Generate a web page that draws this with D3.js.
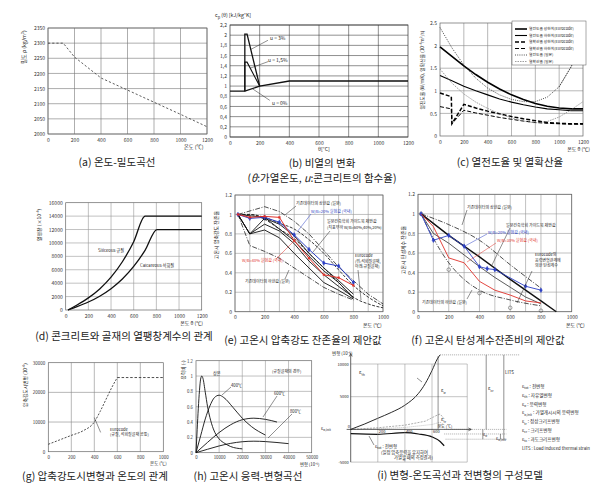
<!DOCTYPE html>
<html><head><meta charset="utf-8">
<script src="https://cdn.jsdelivr.net/npm/d3@7"></script>
<style>body{margin:0;background:#fff}svg{display:block}</style>
</head><body><svg id="c" width="607" height="486"></svg>
<script>
// ================= DATA =================
// (a) density
const aTicksX=[0,200,400,600,800,1000,1200];
const aTicksY=[2000,2050,2100,2150,2200,2250,2300,2350];
const densityCurve=[[0,2300],[115,2300],[200,2254],[400,2185],[600,2145],[800,2105],[1000,2065],[1200,2024]];
// (b) specific heat
const bTicksX=[0,200,400,600,800,1000,1200];
const bTicksY=[0,0.2,0.4,0.6,0.8,1,1.2,1.4,1.6,1.8,2,2.2];
const cpMoist0=[[0,0.9],[100,0.9],[200,1.0],[400,1.1],[1200,1.1]];
const cpMoist15=[[100,0.9],[100,1.47],[115,1.47],[200,1.0]];
const cpMoist3=[[100,0.9],[100,2.02],[115,2.02],[200,1.0]];
// (c) conductivity / diffusivity
const cTicksX=[0,200,400,600,800,1000,1200];
const cTicksY=[0,0.5,1,1.5,2,2.5];
const condUpperEC=[[0,1.97],[100,1.76],[200,1.55],[300,1.36],[400,1.19],[500,1.04],[600,0.91],[700,0.81],[800,0.72],[900,0.66],[1000,0.62],[1100,0.6],[1200,0.6]];
const condLowerEC=[[0,1.34],[100,1.22],[200,1.1],[300,1.0],[400,0.91],[500,0.82],[600,0.75],[700,0.69],[800,0.64],[900,0.6],[1000,0.58],[1100,0.56],[1200,0.56]];
const diffUpperEC=[[0,0.95],[95,0.87],[100,0.27],[200,0.7],[300,0.62],[400,0.55],[500,0.49],[600,0.43],[700,0.38],[800,0.34],[900,0.3],[1000,0.28],[1100,0.27],[1200,0.27]];
const diffLowerEC=[[0,0.65],[95,0.6],[100,0.27],[200,0.57],[300,0.51],[400,0.46],[500,0.41],[600,0.37],[700,0.33],[800,0.3],[900,0.28],[1000,0.27],[1100,0.26],[1200,0.26]];
const condJapan=[[0,2.4],[100,1.95],[200,1.57],[300,1.28],[400,1.06],[500,0.91],[600,0.81],[700,0.76],[800,0.76],[900,0.86],[1000,1.09],[1100,1.53],[1200,2.09]];
const diffJapan=[[0,1.48],[100,1.17],[200,0.93],[300,0.75],[400,0.61],[500,0.49],[600,0.4],[700,0.33],[800,0.29],[900,0.32],[1000,0.42],[1100,0.58],[1200,0.76]];
const cLegendLabels=["열전도율 상한치(Eurocode)","열전도율 하한치(Eurocode)","열확산율 상한치(Eurocode)","열확산율 하한치(Eurocode)","열전도율 (일본)","열확산율 (일본)"];
// (d) thermal expansion
const dTicksX=[0,200,400,600,800,1000,1200];
const dTicksY=[0,2000,4000,6000,8000,10000,12000,14000,16000];
const expSiliceous=[[20,0],[100,743],[200,1804],[300,3141],[400,4892],[500,7195],[600,10188],[700,14000],[1200,14000]];
const expCalcareous=[[20,0],[100,494],[200,1192],[300,2058],[400,3176],[500,4630],[600,6504],[700,8882],[805,12000],[1200,12000]];
// (e) residual compressive strength
const eTicksX=[0,200,400,600,800,1000];
const eTicksY=[0,0.2,0.4,0.6,0.8,1,1.2];
const eGridX=[0,100,200,300,400,500,600,700,800,900,1000];
const eUpper=[[20,1],[200,1.08],[300,1.03],[400,0.93],[500,0.8],[600,0.63],[700,0.46],[800,0.32],[900,0.18],[1000,0.08]];
const eLower=[[20,1],[100,0.68],[200,0.62],[300,0.55],[400,0.45],[500,0.35],[600,0.25],[700,0.18],[800,0.12]];
const eEuroCalc=[[20,1],[100,1],[200,0.97],[300,0.91],[400,0.85],[500,0.74],[600,0.6],[700,0.43],[800,0.27],[900,0.15],[1000,0.06]];
const eEuroSil=[[20,1],[100,1],[200,0.95],[300,0.85],[400,0.75],[500,0.6],[600,0.45],[700,0.3],[800,0.15],[900,0.08],[1000,0.04]];
const eAIJ80=[[20,1],[100,0.8],[200,0.96],[300,0.9],[400,0.78],[500,0.6],[600,0.45],[700,0.32],[800,0.18]];
const eAIJ40=[[20,1],[100,0.8],[200,0.9],[300,0.83],[400,0.7],[500,0.52],[600,0.38],[700,0.26],[800,0.15]];
const eAIJ20=[[20,1],[100,0.8],[200,0.84],[300,0.76],[400,0.6],[500,0.45],[600,0.3],[700,0.22],[800,0.13]];
const eAIJbase=[[20,1],[200,0.97],[400,0.73],[500,0.57],[600,0.42],[700,0.3],[800,0.14]];
const eBlue=[[20,1],[100,0.96],[200,0.97],[300,0.92],[400,0.79],[500,0.64],[600,0.5],[700,0.47],[800,0.3]];
const eRed=[[20,1],[100,0.97],[200,0.98],[300,0.97],[400,0.73],[500,0.55],[600,0.38],[700,0.35],[800,0.27]];
// (f) residual elastic modulus
const fUpper=[[20,1],[200,0.89],[400,0.73],[600,0.48],[800,0.24]];
const fLower=[[20,1],[100,0.75],[200,0.5],[300,0.33],[400,0.22],[600,0.12],[800,0.06]];
const fLowerPts=[[20,1],[200,0.43],[400,0.19],[600,0.04],[800,0.01]];
const fAIJ=[[20,1],[200,0.78],[400,0.56],[600,0.33],[800,0.11],[900,0]];
const fEuro=[[20,1],[100,0.8],[200,0.7],[300,0.58],[400,0.46],[500,0.35],[600,0.25],[700,0.15],[800,0.08]];
const fBlue=[[20,1],[100,0.73],[200,0.78],[300,0.67],[400,0.46],[450,0.44],[500,0.43],[700,0.26],[800,0.22]];
const fRed=[[20,1],[100,0.87],[200,0.55],[300,0.5],[400,0.31],[500,0.22],[600,0.17],[700,0.11],[800,0.09]];
// (g) strain at peak stress
const gTicksX=[0,200,400,600,800,1000];
const gTicksY=[0,10000,20000,30000];
const gPeakStrain=[[0,2500],[100,4000],[200,5500],[300,7000],[400,10000],[450,13500],[500,17500],[550,21500],[600,25000]];
const gPeakFlat=[[600,25000],[1000,25000]];
// (h) stress-strain at high temperature
const hTicksX=[0,10000,20000,30000,40000,50000];
const hTicksY=[0,0.2,0.4,0.6,0.8,1,1.2];
const ss20=[[0,0],[500,0.3],[1000,0.58],[1500,0.81],[2000,0.96],[2500,1],[3000,0.97],[4000,0.79],[5000,0.6],[6000,0.46],[7500,0.31],[10000,0.18],[12500,0.12],[15000,0.08],[20000,0.05]];
const ss400=[[0,0],[2000,0.22],[4000,0.44],[6000,0.61],[8000,0.72],[10000,0.75],[12000,0.72],[16000,0.59],[20000,0.45],[24000,0.34],[30000,0.23]];
const ss600=[[0,0],[5000,0.135],[10000,0.263],[15000,0.365],[20000,0.43],[25000,0.45],[30000,0.435],[35000,0.4]];
const ss800=[[0,0],[5000,0.045],[10000,0.088],[15000,0.122],[20000,0.143],[25000,0.15],[30000,0.145],[35000,0.133],[40000,0.118]];
// (i) strain components (schematic)
const iTicksX=[200,400,600];
const iTicksY=[10000,5000,-5000];
const iThermal=[[0,0],[100,800],[200,1700],[300,2600],[400,3700],[500,5500],[550,7000],[600,9000],[640,10800],[660,11400]];
const iTotal=[[0,-650],[200,-750],[400,-500],[500,-700],[600,-1150],[660,-1850],[690,-2500]];
const iDash1=[[0,0],[200,250],[400,650],[550,1250],[630,2100],[660,2350],[690,1600]];
const iDash2=[[0,0],[200,100],[400,300],[600,750],[660,1100],[690,700]];
const iLegend=[["tot","전변형"],["th","자유열변형"],["σ","응력변형"],["σ,init","가열개시시의 응력변형"],["tr","정상크리프변형"],["cr","크리프변형"],["tc","과도크리프변형"]];

// ================= DRAWING =================
const svg=d3.select('#c');
const FONT='"Noto Sans CJK KR","Noto Sans",sans-serif';
function txt(x,y,s,o={}){
  const t=svg.append('text').attr('x',x).attr('y',y).text(s)
    .attr('font-size',o.fs||5).attr('font-family',FONT).attr('fill',o.c||'#222')
    .attr('text-anchor',o.a||'start');
  if(o.rot) t.attr('transform',`rotate(${o.rot},${x},${y})`);
  if(o.fw) t.attr('font-weight',o.fw);
  return t;
}
function eps(x,y,sub,rest,fs,o={}){
  const t=svg.append('text').attr('x',x).attr('y',y).attr('font-size',fs).attr('font-family',FONT).attr('fill','#222');
  t.append('tspan').text(o.base||'ε');
  t.append('tspan').attr('font-size',fs*0.7).attr('dy',fs*0.3).text(sub);
  if(rest) t.append('tspan').attr('dy',-fs*0.3).text(rest);
  return t;
}
function seg(x1,y1,x2,y2,o={}){
  return svg.append('line').attr('x1',x1).attr('y1',y1).attr('x2',x2).attr('y2',y2)
    .attr('stroke',o.c||'#222').attr('stroke-width',o.w||0.5).attr('stroke-dasharray',o.d||null);
}
function panel(o){
  const g=svg.append('g');
  const x=d3.scaleLinear().domain(o.xd).range([o.x0,o.x1]);
  const y=d3.scaleLinear().domain(o.yd).range([o.y1,o.y0]);
  const gc=o.gc||'#8a8a8a', gw=o.gw||0.6;
  g.selectAll(null).data(o.gx).join('line').attr('x1',d=>x(d)).attr('x2',d=>x(d)).attr('y1',o.y0).attr('y2',o.y1).attr('stroke',gc).attr('stroke-width',gw);
  g.selectAll(null).data(o.gy).join('line').attr('y1',d=>y(d)).attr('y2',d=>y(d)).attr('x1',o.x0).attr('x2',o.x1).attr('stroke',gc).attr('stroke-width',gw);
  g.append('rect').attr('x',o.x0).attr('y',o.y0).attr('width',o.x1-o.x0).attr('height',o.y1-o.y0)
    .attr('fill','none').attr('stroke',o.bc||'#666').attr('stroke-width',o.bw||0.7);
  const ax=g.append('g').attr('transform',`translate(0,${o.y1})`)
    .call(d3.axisBottom(x).tickValues(o.xt).tickSize(0).tickPadding(o.xpad||4).tickFormat(o.xf||d3.format('~g')));
  const ay=g.append('g').attr('transform',`translate(${o.x0},0)`)
    .call(d3.axisLeft(y).tickValues(o.yt).tickSize(0).tickPadding(o.ypad||3).tickFormat(o.yf||d3.format('~g')));
  [ax,ay].forEach(a=>{a.select('.domain').remove();
    a.selectAll('text').attr('font-size',o.fs||5).attr('font-family',FONT).attr('fill','#333');});
  return {g,x,y};
}
function line(P,data,o={}){
  const p=P.g.append('path').datum(data)
    .attr('d',d3.line().curve(o.curve||d3.curveLinear).x(d=>P.x(d[0])).y(d=>P.y(d[1])))
    .attr('fill','none').attr('stroke',o.c||'#111').attr('stroke-width',o.w||0.9);
  if(o.d) p.attr('stroke-dasharray',o.d);
  return p;
}
function markers(P,data,o={}){
  P.g.selectAll(null).data(data).join('path')
    .attr('transform',d=>`translate(${P.x(d[0])},${P.y(d[1])})`)
    .attr('d',d3.symbol().type(o.type||d3.symbolDiamond).size(o.size||7))
    .attr('fill',o.fill||o.c||'#111').attr('stroke',o.c||'#111').attr('stroke-width',0.5);
}
function caption(cx,y,s){ txt(cx,y,s,{fs:10.5,a:'middle',c:'#222'}); }

// ---------- (a) ----------
const A=panel({x0:48,x1:207,y0:28,y1:134,xd:[0,1200],yd:[2000,2350],xt:aTicksX,yt:aTicksY,gx:aTicksX,gy:aTicksY,gc:'#777'});
line(A,densityCurve,{d:'2.2,2',w:0.8,c:'#333'});
txt(26,47,'밀도 ρ (kg/m³)',{fs:5.2,a:'middle',rot:-90});
txt(184,149,'온도 (℃)',{fs:5.2});
caption(117,166,'(a) 온도-밀도곡선');

// ---------- (b) ----------
const B=panel({x0:230,x1:408,y0:25,y1:137,xd:[0,1200],yd:[0,2.2],xt:bTicksX,yt:bTicksY,gx:[200,400,600,800,1000],gy:bTicksY,gc:'#333',gw:0.55,bc:'#333',
  yf:d=>Math.abs(d-Math.round(d))<1e-9?String(Math.round(d)):d.toFixed(1).replace('.',',')});
line(B,cpMoist0,{w:1.3});
line(B,cpMoist15,{w:1.1});
line(B,cpMoist3,{w:1.3});
txt(270,40,'u = 3%',{fs:5});
seg(B.x(256),B.y(1.9),B.x(140),B.y(1.72));
txt(268,62,'u = 1,5%',{fs:5});
seg(B.x(256),B.y(1.48),B.x(135),B.y(1.35));
txt(272,105,'u = 0%',{fs:5});
seg(B.x(268),B.y(0.72),B.x(150),B.y(0.95));
(function(){const t=svg.append('text').attr('x',215).attr('y',17).attr('font-size',5.2).attr('font-family',FONT).attr('fill','#222');
  t.append('tspan').text('c');t.append('tspan').attr('font-size',3.8).attr('dy',1.5).text('p');
  t.append('tspan').attr('dy',-1.5).text(' (θ) [kJ/kg°K]');})();
txt(318,151,'θ[°C]',{fs:5.2});
caption(322,167,'(b) 비열의 변화');
(function(){const t=svg.append('text').attr('x',322).attr('y',182).attr('font-size',10.5).attr('font-family',FONT).attr('fill','#222').attr('text-anchor','middle');
  t.append('tspan').text('(');t.append('tspan').attr('font-style','italic').text('θ');
  t.append('tspan').text(':가열온도, ');t.append('tspan').attr('font-style','italic').text('u');
  t.append('tspan').text(':콘크리트의 함수율)');})();

// ---------- (c) ----------
const C=panel({x0:440,x1:583,y0:23,y1:136,xd:[0,1200],yd:[0,2.5],xt:cTicksX,yt:cTicksY,gx:[200,400,600,800,1000],gy:[0.5,1,1.5,2],gc:'#888'});
const cStyles=[{w:1.6,c:'#000'},{w:1.1,c:'#000'},{w:1.5,c:'#000',d:'4,2'},{w:1,c:'#000',d:'4,2'},{w:0.8,c:'#222',d:'1,1.2'},{w:0.7,c:'#777',d:'1.5,1'}];
[condUpperEC,condLowerEC,diffUpperEC,diffLowerEC,condJapan,diffJapan].forEach((s,i)=>line(C,s,cStyles[i]));
svg.append('rect').attr('x',512).attr('y',21).attr('width',74).attr('height',44).attr('fill','#fff').attr('stroke','#555').attr('stroke-width',0.5);
cLegendLabels.forEach((l,i)=>{const yy=29+i*6.5;
  seg(515,yy,527,yy,{w:cStyles[i].w,c:cStyles[i].c,d:cStyles[i].d});
  txt(529,yy+1.4,l,{fs:3.8});});
line(C,condJapan.slice(10),cStyles[4]);
txt(424,70,'열전도율 (W/mK), 열확산율 (10⁻⁶m²/s)',{fs:4.8,a:'middle',rot:-90});
txt(590,151,'온도 θ (℃)',{fs:5,a:'end'});
caption(510,166,'(c) 열전도율 및 열확산율');

// ---------- (d) ----------
const D=panel({x0:65.7,x1:201.7,y0:202.7,y1:310,xd:[0,1200],yd:[0,16000],xt:dTicksX,yt:dTicksY,gx:[200,400,600,800,1000],gy:[2000,4000,6000,8000,10000,12000,14000],gc:'#999'});
line(D,expSiliceous,{w:1.3,curve:d3.curveMonotoneX});
line(D,expCalcareous,{w:1.3,curve:d3.curveMonotoneX});
txt(98,252,'Siliceous 규질',{fs:4.2});
txt(140,267,'Calcareous 석회질',{fs:4.2});
txt(41,225,'열팽창 (×10⁻⁶)',{fs:5,a:'middle',rot:-90});
txt(203,325,'온도 θ (℃)',{fs:5,a:'end'});
caption(124,340,'(d) 콘크리트와 골재의 열팽창계수의 관계');

// ---------- (e) ----------
const E=panel({x0:235,x1:383,y0:195,y1:311.7,xd:[0,1000],yd:[0,1.2],xt:eTicksX,yt:eTicksY,gx:eGridX,gy:eTicksY,gc:'#999'});
line(E,eUpper,{w:0.8,d:'5,1.5,1,1.5',c:'#222'});
line(E,eLower,{w:0.8,d:'5,1.5,1,1.5',c:'#222'});
line(E,eEuroCalc,{w:0.9,d:'3,1.5',c:'#222',curve:d3.curveMonotoneX});
line(E,eEuroSil,{w:0.9,d:'3,1.5',c:'#222',curve:d3.curveMonotoneX});
[eAIJ80,eAIJ40,eAIJ20,eAIJbase].forEach(s=>line(E,s,{w:0.9,c:'#111'}));
markers(E,[[200,0.96]],{type:d3.symbolCircle,size:8});
line(E,eBlue,{w:1,c:'#2b3fc4'});
markers(E,eBlue,{c:'#2b3fc4',size:6});
line(E,eRed,{w:1,c:'#e0322b'});
markers(E,eRed,{c:'#e0322b',type:d3.symbolSquare,size:3});
txt(296,205,'기존데이터의 상한값 (일본)',{fs:4});
seg(296,206,285,215);
txt(311,213,'W/B=20% 실험값 (국내)',{fs:4,c:'#2b3fc4'});
seg(311,214,297,232,{c:'#2b3fc4'});
txt(327,223,'일본건축학회 가이드북 제안값',{fs:4});
txt(327,229,'(지표부하 W/B=60%,40%,20%)',{fs:4});
seg(330,231,313,252);
txt(242,262,'W/B=40% 실험값 (국내)',{fs:4,c:'#e0322b'});
seg(276,259,297,238,{c:'#e0322b'});
txt(355,257,'Eurocode',{fs:4});
txt(355,262.5,'(위:석회질골재,',{fs:4});
txt(355,268,'아래:규질골재)',{fs:4});
seg(358,270,361,300);
txt(245,283,'기존데이터의 하한값 (일본)',{fs:4});
seg(285,279,289,270);
txt(218,235,'고온시 압축강도 잔존율',{fs:5,a:'middle',rot:-90});
txt(363,327,'온도 (℃)',{fs:5});
caption(303,344,'(e) 고온시 압축강도 잔존율의 제안값');

// ---------- (f) ----------
const F=panel({x0:418,x1:571.7,y0:194.3,y1:311.7,xd:[0,1000],yd:[0,1.2],xt:eTicksX,yt:eTicksY,gx:eGridX,gy:eTicksY,gc:'#999'});
line(F,fUpper,{w:0.8,d:'5,1.5,1,1.5',c:'#222',curve:d3.curveMonotoneX});
line(F,fLower,{w:0.8,d:'5,1.5,1,1.5',c:'#222',curve:d3.curveMonotoneX});
markers(F,fLowerPts,{type:d3.symbolCircle,size:10,fill:'none',c:'#444'});
line(F,fAIJ,{w:1.4,c:'#111'});
line(F,fEuro,{w:0.8,c:'#333'});
line(F,fBlue,{w:0.9,c:'#2b3fc4'});
markers(F,fBlue,{c:'#2b3fc4',size:6});
line(F,fRed,{w:0.9,c:'#e0322b'});
txt(467,209,'기존데이터의 상한값 (일본)',{fs:4});
seg(467,210,462,225);
txt(506,227,'일본건축학회 가이드북 제안값',{fs:4});
seg(510,228,492,265);
txt(488,234,'W/B=20% 실험값 (국내)',{fs:4,c:'#2b3fc4'});
seg(487,234,465,246,{c:'#2b3fc4'});
txt(497,242,'W/B=30% 실험값 (국내)',{fs:4,c:'#e0322b'});
seg(496,243,467,262,{c:'#e0322b'});
txt(535,256,'Eurocode의',{fs:4});
txt(535,261.5,'응력변형관계에',{fs:4});
txt(535,267,'의한 탄성계수',{fs:4});
seg(532,271,517,303);
txt(422,304,'기존데이터의 하한값 (일본)',{fs:4});
seg(467,299,472,290);
txt(405,250,'고온시 탄성계수 잔존율',{fs:5,a:'middle',rot:-90});
txt(566,327,'온도 (℃)',{fs:5});
caption(488,344,'(f) 고온시 탄성계수잔존비의 제안값');

// ---------- (g) ----------
const G=panel({x0:48.3,x1:163.3,y0:362.7,y1:451.7,xd:[0,1000],yd:[0,30000],xt:gTicksX,yt:gTicksY,gx:[200,400,600,800],gy:[10000,20000],gc:'#888',fs:4.5});
line(G,gPeakStrain,{w:0.8,d:'2,1.5',c:'#222',curve:d3.curveMonotoneX});
line(G,gPeakFlat,{w:0.8,d:'2.5,1.8',c:'#222'});
seg(G.x(400),G.y(11500),G.x(455),G.y(6500));
txt(110,431,'Eurocode',{fs:4});
txt(110,436,'(규질, 석회질골재 공통)',{fs:4});
txt(27,385,'압축강도시변형 (10⁻⁶)',{fs:4.8,a:'middle',rot:-90});
txt(150,465,'온도 (℃)',{fs:4.5});
caption(95,480,'(g) 압축강도시변형과 온도의 관계');

// ---------- (h) ----------
const H=panel({x0:196,x1:311.7,y0:360.7,y1:452.7,xd:[0,50000],yd:[0,1.2],xt:hTicksX,yt:hTicksY,gx:[10000,20000,30000,40000],gy:[0.2,0.4,0.6,0.8,1],gc:'#999',fs:4.3,xpad:3});
[ss20,ss400,ss600,ss800].forEach(s=>line(H,s,{w:0.9,c:'#111',curve:d3.curveMonotoneX}));
txt(272,373,'(규질골재의 경우)',{fs:4});
txt(213,375,'상온',{fs:4.2});
txt(231,387,'400℃',{fs:4.2});
seg(231,387,222,395);
txt(274,395,'600℃',{fs:4.2});
seg(277,396,263,417);
txt(290,413,'800℃',{fs:4.2});
seg(292,414,268,438);
txt(185,370,'응력비 (-)',{fs:4.8,a:'middle',rot:-90});
txt(300,466,'변형 (10⁻⁶)',{fs:4.3});
caption(248,480,'(h) 고온시 응력-변형곡선');

// ---------- (i) schematic ----------
const Ix=d3.scaleLinear().domain([0,1000]).range([350.7,486.2]);
const Iy=d3.scaleLinear().domain([0,10000]).range([429.4,364]);
const I={g:svg.append('g'),x:Ix,y:Iy};
[10000,5000,-5000].forEach(v=>seg(Ix(0),Iy(v),Ix(860),Iy(v),{c:'#888',w:0.5}));
[200,400,600,860].forEach(v=>seg(Ix(v),Iy(10000),Ix(v),Iy(-5000),{c:'#888',w:0.5}));
seg(Ix(0),Iy(-5000),Ix(0),Iy(11600),{w:0.7});
svg.append('path').attr('d',`M${Ix(0)-1.5},${Iy(11600)+3}L${Ix(0)},${Iy(11600)}L${Ix(0)+1.5},${Iy(11600)+3}`).attr('fill','none').attr('stroke','#222').attr('stroke-width',0.6);
seg(Ix(-30),Iy(0),Ix(890),Iy(0),{w:0.7});
svg.append('path').attr('d',`M${Ix(890)-3},${Iy(0)-1.5}L${Ix(890)},${Iy(0)}L${Ix(890)-3},${Iy(0)+1.5}`).attr('fill','none').attr('stroke','#222').attr('stroke-width',0.6);
iTicksY.forEach(v=>txt(Ix(0)-2,Iy(v)+1.5,String(v),{fs:4,a:'end'}));
iTicksX.forEach(v=>txt(Ix(v)+1,Iy(0)+3.5,String(v),{fs:4}));
txt(332,355,'변형 (10⁻⁶)',{fs:4.5});
txt(Ix(640),Iy(0)-1,'온도 (℃)',{fs:4});
line(I,iDash1,{w:0.6,d:'2,1.2',c:'#777'});
line(I,iDash2,{w:0.6,d:'1,1',c:'#999'});
line(I,iThermal,{w:0.9,c:'#111',curve:d3.curveMonotoneX});
line(I,iTotal,{w:1.2,c:'#111',curve:d3.curveMonotoneX});
seg(Ix(660),Iy(11400),Ix(1250),Iy(11400),{d:'1,1',c:'#555'});
seg(Ix(690),Iy(0),Ix(1150),Iy(0),{d:'1,1',c:'#555'});
seg(Ix(690),Iy(-700),Ix(1150),Iy(-700),{d:'1,1',c:'#555'});
seg(Ix(700),Iy(-1500),Ix(1150),Iy(-1500),{d:'1,1',c:'#555'});
seg(Ix(645),Iy(11200),Ix(645),Iy(0),{w:0.5});
seg(Ix(1000),Iy(11400),Ix(1000),Iy(0),{w:0.5});
seg(Ix(1130),Iy(11400),Ix(1130),Iy(-1500),{w:0.5});
seg(Ix(975),Iy(0),Ix(975),Iy(-1500),{w:0.5});
seg(Ix(1105),Iy(-700),Ix(1105),Iy(-1500),{w:0.5});
eps(359,374,'th','',5);
seg(417,378,422,382);
eps(441,392,'σ','',5);
eps(441,421,'tr','',5);
eps(488,390,'cr','',5);
txt(505,374,'LITS',{fs:4.5});
eps(483,436,'σ','',4.5);
eps(496,440,'σ,init','',4.5);
eps(321,430,'σ,init','',4.5);
txt(Ix(0)-3,Iy(0)-1,'0',{fs:4});
eps(375,448,'tot',' : 전변형',4.5);
seg(369,436,374,445);
txt(381,453.5,'(일정 압축응력을 유지하여',{fs:4.3});
txt(394,459,'가열할 때의 측정결과)',{fs:4.3});
iLegend.forEach((l,i)=>eps(522,388+i*8.8,l[0],' : '+l[1],4.6));
txt(522,388+7*8.8,'LITS : Load induced thermal strain',{fs:4.3});
caption(460,479,'(i) 변형-온도곡선과 전변형의 구성모델');
</script></body></html>
